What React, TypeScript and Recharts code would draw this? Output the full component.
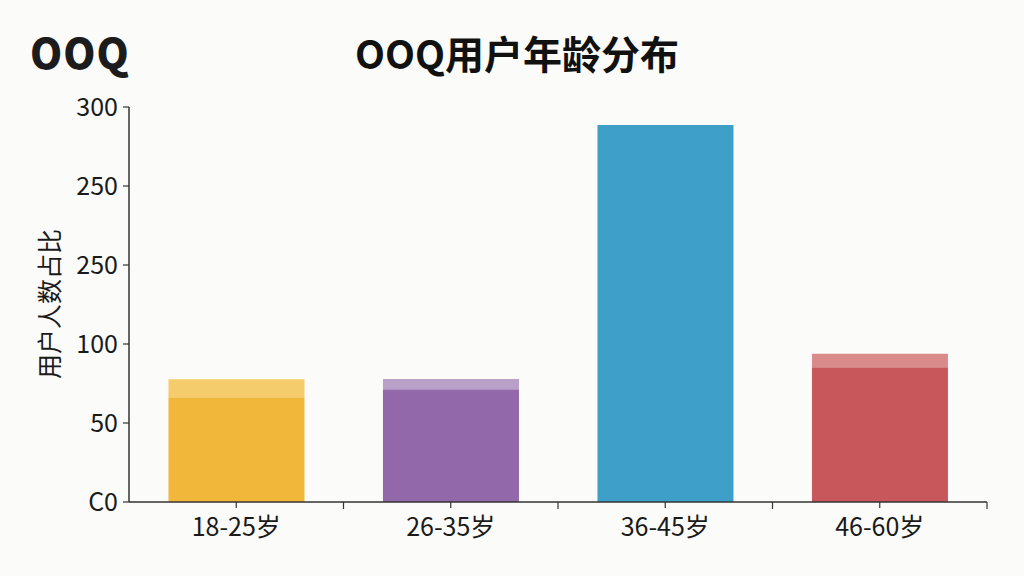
import { BarChart, Bar, XAxis, YAxis, Cell } from "recharts";

const ageGroups = ["18-25岁", "26-35岁", "36-45岁", "46-60岁"];
const baseUsers = [79.5, 85.6, 286.3, 102.3];
const capUsers = [13.7, 7.8, 0, 10.3];
const baseColors = ["#F1B73A", "#9268AA", "#3EA0C8", "#C8575B"];
const capColors = ["#F5CC6C", "#B9A0C9", "#3EA0C8", "#D98B8C"];
const yTicks = [0, 60, 120, 180, 240, 300];
const yTickLabels = ["C0", "50", "100", "250", "250", "300"];

const data = ageGroups.map((g, i) => ({ group: g, base: baseUsers[i], cap: capUsers[i] }));

const font = "'Noto Sans CJK SC', 'Noto Sans', sans-serif";
const ink = "#1a1a1a";
const TICK = 6;
const GAP = 10;

// category label plus the small mark at the right edge of each band
function GroupTick(props: any) {
  const { x, y, payload } = props;
  const half = payload?.offset ?? 0;
  const axisY = y - TICK - GAP;
  return (
    <g>
      {half > 0 && <line x1={x + half} x2={x + half} y1={axisY} y2={axisY + 7} stroke="#333" strokeWidth={1.2} />}
      <text x={x} y={y} dy="0.71em" textAnchor="middle" fill={ink} fontSize={25} fontFamily={font}>
        {payload.value}
      </text>
    </g>
  );
}

export default function App() {
  return (
    <div style={{ position: "relative", width: 1024, height: 576, background: "#fbfbf9", fontFamily: font }}>
      <style>{`body{margin:0}`}</style>
      <div style={{ position: "absolute", left: 30, top: 25, fontSize: 41, fontWeight: 800, color: "#1c1c1c", letterSpacing: 1, lineHeight: "52px" }}>
        OOQ
      </div>
      <div style={{ position: "absolute", left: 0, width: 1034, top: 26, textAlign: "center", fontSize: 39, fontWeight: 700, color: "#111", lineHeight: "52px" }}>
        OOQ用户年龄分布
      </div>
      <div style={{ position: "absolute", left: 48, top: 304, transform: "translate(-50%, -50%) rotate(-90deg)", fontSize: 25, color: ink, whiteSpace: "nowrap" }}>
        用户人数占比
      </div>
      <BarChart width={1024} height={576} data={data} margin={{ top: 107, right: 37, bottom: 0, left: 0 }} barCategoryGap="18.4%">
        <XAxis dataKey="group" height={74} tickSize={TICK} tickMargin={GAP} axisLine={{ stroke: "#333", strokeWidth: 1.5 }} tickLine={{ stroke: "#333", strokeWidth: 1.2 }} tick={<GroupTick />} />
        <YAxis width={129} domain={[0, 300]} ticks={yTicks} tickFormatter={(v: number) => yTickLabels[yTicks.indexOf(v)]} tickSize={6} tickMargin={5} axisLine={{ stroke: "#333", strokeWidth: 1.5 }} tickLine={{ stroke: "#333", strokeWidth: 1.2 }} tick={{ fill: ink, fontSize: 25, fontFamily: font }} />
        <Bar dataKey="base" stackId="a" isAnimationActive={false}>
          {data.map((d, i) => (
            <Cell key={d.group} fill={baseColors[i]} />
          ))}
        </Bar>
        <Bar dataKey="cap" stackId="a" isAnimationActive={false}>
          {data.map((d, i) => (
            <Cell key={d.group} fill={capColors[i]} />
          ))}
        </Bar>
      </BarChart>
    </div>
  );
}
